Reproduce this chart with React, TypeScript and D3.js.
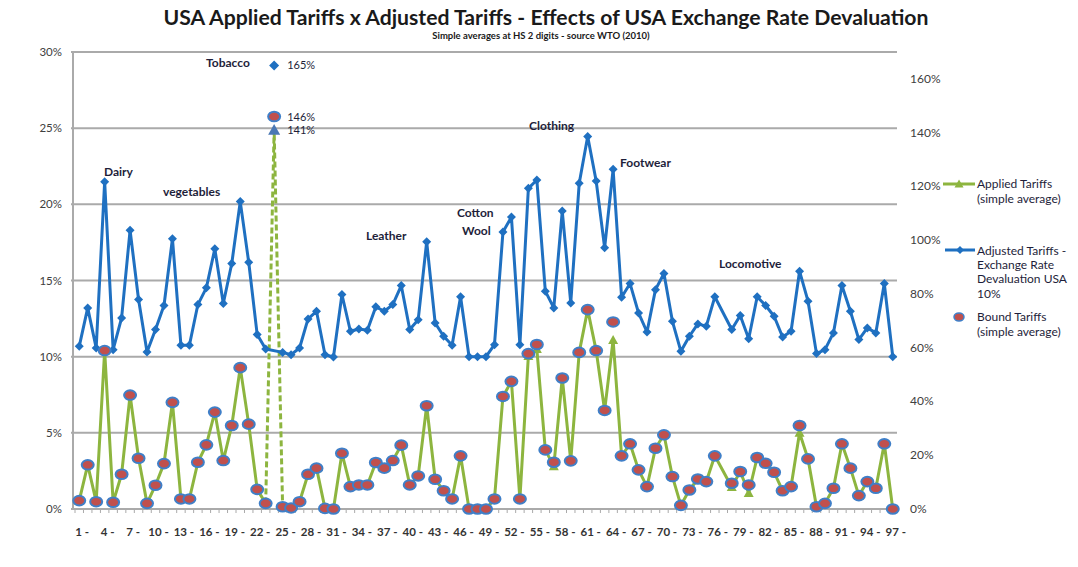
import React from 'react';
import * as d3 from 'd3';

// HS 2-digit chapters 1..97 (77 is reserved, 24 = tobacco plotted on the right axis)
const categories = d3.range(1, 98);

const boundTariffs: (number | null)[] = [
  0.55, 2.9, 0.48, 10.4, 0.44, 2.28, 7.48, 3.33, 0.37, 1.56,
  2.98, 7.0, 0.66, 0.66, 3.07, 4.21, 6.36, 3.18, 5.48, 9.28,
  5.57, 1.29, 0.37, null, 0.15, 0.07, 0.48, 2.28, 2.68, 0.04,
  0.0, 3.66, 1.47, 1.58, 1.58, 3.05, 2.68, 3.18, 4.19, 1.58,
  2.17, 6.78, 1.95, 1.2, 0.66, 3.49, 0, 0, 0, 0.66,
  7.39, 8.38, 0.66, 10.2, 10.8, 3.88, 3.07, 8.6, 3.16, 10.28,
  13.09, 10.4, 6.47, 12.28, 3.49, 4.28, 2.57, 1.47, 3.99, 4.87,
  2.13, 0.24, 1.25, 1.97, 1.8, 3.49, null, 1.69, 2.46, 1.58,
  3.38, 3.0, 2.41, 1.2, 1.47, 5.48, 3.29, 0.15, 0.37, 1.36,
  4.28, 2.68, 0.88, 1.8, 1.36, 4.28, 0,
];

const appliedTariffs: (number | null)[] = [
  0.55, 2.9, 0.48, 10.4, 0.44, 2.28, 7.48, 3.33, 0.37, 1.56,
  2.98, 7.0, 0.66, 0.66, 3.07, 4.21, 6.36, 3.18, 5.48, 9.28,
  5.57, 1.29, 0.37, null, 0.15, 0.07, 0.48, 2.28, 2.68, 0.04,
  0.0, 3.66, 1.47, 1.58, 1.58, 3.05, 2.68, 3.18, 4.19, 1.58,
  2.17, 6.78, 1.95, 1.2, 0.66, 3.49, 0, 0, 0, 0.66,
  7.39, 8.38, 0.66, 10.05, 10.5, 3.88, 2.8, 8.6, 3.16, 10.28,
  13.09, 10.4, 6.47, 11.1, 3.49, 4.28, 2.57, 1.47, 3.99, 4.87,
  2.13, 0.24, 1.25, 1.97, 1.8, 3.49, null, 1.45, 2.46, 1.05,
  3.38, 3.0, 2.41, 1.2, 1.47, 5.0, 3.29, 0.15, 0.37, 1.36,
  4.28, 2.68, 0.88, 1.8, 1.36, 4.28, 0,
];

const adjustedTariffs: (number | null)[] = [
  10.68, 13.2, 10.57, 21.49, 10.46, 12.54, 18.3, 13.75, 10.3, 11.78,
  13.36, 17.74, 10.75, 10.75, 13.42, 14.52, 17.08, 13.49, 16.12, 20.18,
  16.2, 11.45, 10.5, null, 10.28, 10.13, 10.57, 12.48, 12.98, 10.13,
  9.98, 14.08, 11.67, 11.82, 11.73, 13.27, 12.98, 13.42, 14.67, 11.78,
  12.43, 17.55, 12.21, 11.34, 10.75, 13.93, 10.0, 10.0, 10.0, 10.79,
  18.18, 19.17, 10.79, 21.05, 21.6, 14.3, 13.2, 19.56, 13.53, 21.38,
  24.45, 21.53, 17.15, 22.3, 13.9, 14.8, 12.87, 11.62, 14.4, 15.46,
  12.32, 10.35, 11.34, 12.15, 12.0, 13.93, null, 11.78, 12.7, 11.18,
  13.93, 13.36, 12.65, 11.29, 11.67, 15.61, 13.64, 10.2, 10.46, 11.56,
  14.67, 12.98, 11.12, 11.89, 11.56, 14.8, 10.0,
];

// Tobacco (HS 24) on the secondary axis
const tobaccoCategory = 24;
const tobaccoApplied = 141;
const tobaccoBound = 146;
const tobaccoAdjusted = 165;

const leftTicks = [0, 5, 10, 15, 20, 25, 30];
const rightTicks = [0, 20, 40, 60, 80, 100, 120, 140, 160];
const xTickLabels = d3.range(1, 98, 3);

const annotations = [
  { text: 'Tobacco', x: 206, y: 67 },
  { text: 'Dairy', x: 104, y: 176 },
  { text: 'vegetables', x: 163, y: 196 },
  { text: 'Leather', x: 366, y: 240 },
  { text: 'Cotton', x: 457, y: 217 },
  { text: 'Wool', x: 462, y: 235 },
  { text: 'Clothing', x: 529, y: 130 },
  { text: 'Footwear', x: 620, y: 167 },
  { text: 'Locomotive', x: 719, y: 268 },
];

const GREEN = '#8db53f';
const BLUE = '#1f70c1';
const RED = '#c0504d';
const RING = '#3f7fc8';
const GRID = '#aaaaaa';
const TEXT = '#1e1e3a';
const FONT = 'Lato, "Open Sans", sans-serif';

const diamond = (r: number) => `M0,${-r}L${r},0L0,${r}L${-r},0Z`;
const triangle = (r: number) => `M0,${-r}L${r},${r * 0.8}L${-r},${r * 0.8}Z`;

const App: React.FC = () => {
  const width = 1078;
  const height = 567;
  const plot = { left: 75, right: 897, top: 52, bottom: 509 };

  const x = d3.scaleBand<number>().domain(categories).range([plot.left, plot.right]).padding(0);
  const cx = (c: number) => (x(c) || 0) + x.bandwidth() / 2;
  const yL = d3.scaleLinear().domain([0, 30]).range([plot.bottom, plot.top]);
  const yR = d3.scaleLinear().domain([0, 170]).range([plot.bottom, plot.top]);

  const pts = (vals: (number | null)[]) =>
    categories.map((c, i) => ({ c, v: vals[i] })).filter(d => d.v !== null) as { c: number; v: number }[];

  const line = d3.line<{ c: number; v: number }>().x(d => cx(d.c)).y(d => yL(d.v));

  const applied = pts(appliedTariffs);
  const appliedBefore = applied.filter(d => d.c < tobaccoCategory);
  const appliedAfter = applied.filter(d => d.c > tobaccoCategory);
  const adjusted = pts(adjustedTariffs);
  const bound = pts(boundTariffs);

  const prev = appliedBefore[appliedBefore.length - 1];
  const next = appliedAfter[0];
  const tobaccoDash = d3.line<[number, number]>()([
    [cx(prev.c), yL(prev.v)],
    [cx(tobaccoCategory), yR(tobaccoApplied)],
    [cx(next.c), yL(next.v)],
  ]);

  const tx = cx(tobaccoCategory);

  return (
    <svg width={width} height={height} style={{ position: 'absolute', left: 0, top: 0, background: '#fff' }} fontFamily={FONT}>
      {/* title */}
      <text x={546} y={25} textAnchor="middle" fontSize={20} fontWeight="bold" fill="#1a1a1a"
        textLength={765} lengthAdjust="spacingAndGlyphs">
        USA Applied Tariffs x Adjusted Tariffs - Effects of USA Exchange Rate Devaluation
      </text>
      <text x={541} y={39} textAnchor="middle" fontSize={9.5} fontWeight="bold" fill="#1a1a1a">
        Simple averages at HS 2 digits - source WTO (2010)
      </text>

      {/* grid + left axis */}
      {leftTicks.map(t => (
        <g key={t}>
          <line x1={plot.left - 4} x2={plot.right} y1={yL(t)} y2={yL(t)} stroke={GRID} strokeWidth={2} />
          <text x={62} y={yL(t) + 4} textAnchor="end" fontSize={11.5} fill="#404040">{t}%</text>
        </g>
      ))}
      <line x1={plot.left - 2} x2={plot.left - 2} y1={plot.top} y2={plot.bottom} stroke={GRID} strokeWidth={2} />

      {/* right axis labels */}
      {rightTicks.map(t => (
        <text key={t} x={910} y={yR(t) + 4} fontSize={12} fill="#404040">{t}%</text>
      ))}

      {/* x axis ticks + labels */}
      {d3.range(0, categories.length + 1).map(i => {
        const xx = plot.left + i * x.bandwidth();
        return <line key={i} x1={xx} x2={xx} y1={plot.bottom} y2={plot.bottom + 4} stroke={GRID} strokeWidth={1} />;
      })}
      {xTickLabels.map(c => (
        <text key={c} x={cx(c) + 3} y={536} textAnchor="middle" fontSize={11.5} fontWeight="bold" fill="#333">
          {c} -
        </text>
      ))}

      {/* applied tariffs */}
      <path d={line(appliedBefore) || ''} fill="none" stroke={GREEN} strokeWidth={3} strokeLinejoin="round" />
      <path d={line(appliedAfter) || ''} fill="none" stroke={GREEN} strokeWidth={3} strokeLinejoin="round" />
      <path d={tobaccoDash || ''} fill="none" stroke={GREEN} strokeWidth={3} strokeDasharray="6,3" />
      {applied.map(d => (
        <path key={d.c} d={triangle(5)} transform={`translate(${cx(d.c)},${yL(d.v)})`} fill={GREEN} />
      ))}

      {/* adjusted tariffs */}
      <path d={line(adjusted) || ''} fill="none" stroke={BLUE} strokeWidth={3} strokeLinejoin="round" />
      {adjusted.map(d => (
        <path key={d.c} d={diamond(4.5)} transform={`translate(${cx(d.c)},${yL(d.v)})`} fill={BLUE} />
      ))}

      {/* bound tariffs */}
      {bound.map(d => (
        <ellipse key={d.c} cx={cx(d.c)} cy={yL(d.v)} rx={6} ry={4.8} fill={RED} stroke={RING} strokeWidth={2} />
      ))}

      {/* tobacco on secondary axis */}
      <path d={triangle(6)} transform={`translate(${tx},${yR(tobaccoApplied)})`} fill="#4a78b4" />
      <ellipse cx={tx} cy={yR(tobaccoBound)} rx={6} ry={4.8} fill={RED} stroke={RING} strokeWidth={2} />
      <path d={diamond(5)} transform={`translate(${tx},${yR(tobaccoAdjusted)})`} fill={BLUE} />
      <text x={tx + 13} y={yR(tobaccoAdjusted) + 4} fontSize={11} fill={TEXT}>{tobaccoAdjusted}%</text>
      <text x={tx + 13} y={yR(tobaccoBound) + 4} fontSize={11} fill={TEXT}>{tobaccoBound}%</text>
      <text x={tx + 13} y={yR(tobaccoApplied) + 4} fontSize={11} fill={TEXT}>{tobaccoApplied}%</text>

      {/* annotations */}
      {annotations.map(a => (
        <text key={a.text} x={a.x} y={a.y} fontSize={12} fontWeight="bold" fill={TEXT}>{a.text}</text>
      ))}

      {/* legend */}
      <g fontSize={12} fill={TEXT}>
        <line x1={943} x2={975} y1={184} y2={184} stroke={GREEN} strokeWidth={3} />
        <path d={triangle(4.5)} transform="translate(959,184)" fill={GREEN} />
        <text x={977} y={188}>Applied Tariffs</text>
        <text x={977} y={203}>(simple average)</text>

        <line x1={945} x2={975} y1={250} y2={250} stroke={BLUE} strokeWidth={3} />
        <path d={diamond(4)} transform="translate(960,250)" fill={BLUE} />
        <text x={977} y={255}>Adjusted Tariffs -</text>
        <text x={977} y={269}>Exchange Rate</text>
        <text x={977} y={283}>Devaluation USA</text>
        <text x={977} y={298}>10%</text>

        <ellipse cx={959} cy={317} rx={5} ry={4} fill={RED} stroke={RING} strokeWidth={1.5} />
        <text x={977} y={321}>Bound Tariffs</text>
        <text x={977} y={336}>(simple average)</text>
      </g>
    </svg>
  );
};

export default App;
